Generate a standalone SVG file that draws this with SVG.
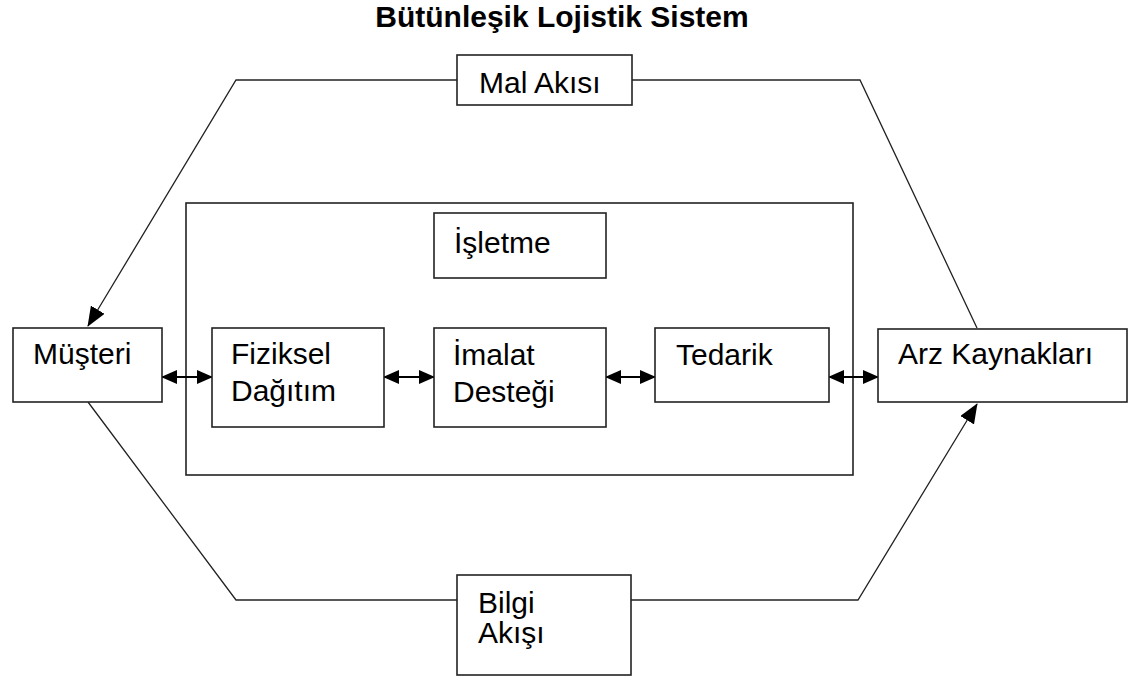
<svg xmlns="http://www.w3.org/2000/svg" width="1147" height="679" viewBox="0 0 1147 679">
  <style>
    .box { fill: #fff; stroke: #222; stroke-width: 1.6; }
    .frame { fill: none; stroke: #222; stroke-width: 1.6; }
    .lbl { font-family: "Liberation Sans", Arial, sans-serif; font-size: 30px; fill: #000; }
    .title { font-family: "Liberation Sans", Arial, sans-serif; font-size: 30px; font-weight: bold; fill: #000; }
    .flow { fill: none; stroke: #222; stroke-width: 1.3; }
    .link { fill: none; stroke: #000; stroke-width: 2; }
  </style>
  <defs>
    <marker id="head" viewBox="0 0 16 14" refX="15" refY="7" markerWidth="16" markerHeight="14" markerUnits="userSpaceOnUse" orient="auto-start-reverse">
      <path d="M0,0 L16,7 L0,14 z" fill="#000"/>
    </marker>
    <marker id="flowhead" viewBox="0 0 20 16" refX="19" refY="8" markerWidth="20" markerHeight="16" markerUnits="userSpaceOnUse" orient="auto">
      <path d="M0,0 L20,8 L0,16 z" fill="#000"/>
    </marker>
  </defs>

  <rect width="1147" height="679" fill="#fff"/>

  <text class="title" x="562" y="27" text-anchor="middle">Bütünleşik Lojistik Sistem</text>

  <!-- enterprise frame -->
  <g id="isletme-frame">
    <rect class="frame" x="186" y="203" width="667" height="272"/>
  </g>

  <!-- connectors -->
  <g id="connectors">
    <polyline class="flow" points="457,80 236,80 88,326" marker-end="url(#flowhead)"/>
    <polyline class="flow" points="632,80 860,80 977,328"/>
    <polyline class="flow" points="88,402 236,600 457,600"/>
    <polyline class="flow" points="631,600 858,600 977,404" marker-end="url(#flowhead)"/>
    <line class="link" x1="162" y1="377" x2="212" y2="377" marker-start="url(#head)" marker-end="url(#head)"/>
    <line class="link" x1="384" y1="377" x2="434" y2="377" marker-start="url(#head)" marker-end="url(#head)"/>
    <line class="link" x1="606" y1="377" x2="655" y2="377" marker-start="url(#head)" marker-end="url(#head)"/>
    <line class="link" x1="829" y1="377" x2="878" y2="377" marker-start="url(#head)" marker-end="url(#head)"/>
  </g>

  <g id="mal-akisi">
    <rect class="box" x="457" y="55" width="175" height="50"/>
    <text class="lbl" x="479" y="93">Mal Akısı</text>
  </g>

  <g id="bilgi-akisi">
    <rect class="box" x="457" y="575" width="174" height="100"/>
    <text class="lbl" x="478" y="613">Bilgi</text>
    <text class="lbl" x="478" y="643">Akışı</text>
  </g>

  <g id="isletme">
    <rect class="box" x="434" y="213" width="172" height="65"/>
    <text class="lbl" x="454" y="253">İşletme</text>
  </g>

  <g id="musteri">
    <rect class="box" x="13" y="328" width="149" height="74"/>
    <text class="lbl" x="33" y="364">Müşteri</text>
  </g>

  <g id="fiziksel-dagitim">
    <rect class="box" x="212" y="328" width="172" height="99"/>
    <text class="lbl" x="231" y="364">Fiziksel</text>
    <text class="lbl" x="231" y="401">Dağıtım</text>
  </g>

  <g id="imalat-destegi">
    <rect class="box" x="434" y="328" width="172" height="99"/>
    <text class="lbl" x="453" y="365">İmalat</text>
    <text class="lbl" x="453" y="402">Desteği</text>
  </g>

  <g id="tedarik">
    <rect class="box" x="655" y="328" width="174" height="74"/>
    <text class="lbl" x="676" y="365">Tedarik</text>
  </g>

  <g id="arz-kaynaklari">
    <rect class="box" x="878" y="329" width="249" height="73"/>
    <text class="lbl" x="898" y="364">Arz Kaynakları</text>
  </g>
</svg>
